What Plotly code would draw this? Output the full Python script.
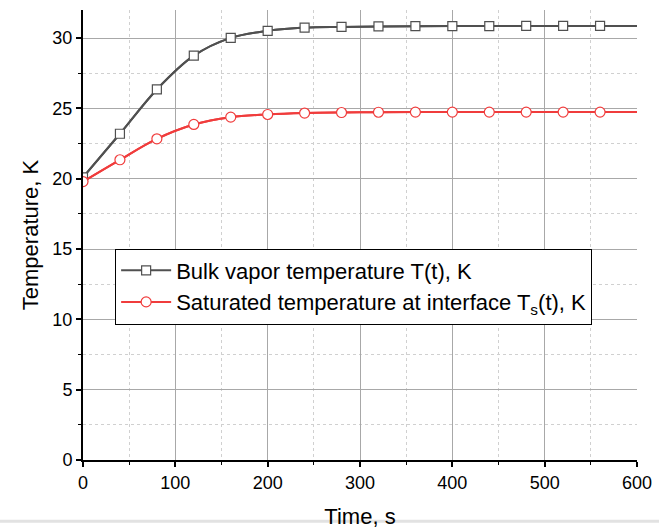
import plotly.graph_objects as go

time_s = [0, 40, 80, 120, 160, 200, 240, 280, 320, 360, 400, 440, 480, 520, 560, 600]
bulk_T = [20.1, 23.2, 26.35, 28.75, 30.02, 30.52, 30.75, 30.8, 30.83, 30.85, 30.86, 30.86, 30.87, 30.87, 30.87, 30.87]
sat_T = [19.8, 21.35, 22.84, 23.86, 24.38, 24.57, 24.67, 24.71, 24.73, 24.74, 24.74, 24.74, 24.74, 24.74, 24.74, 24.74]

bulk_name = "Bulk vapor temperature T(t), K"
sat_name = "Saturated temperature at interface T<sub>s</sub>(t), K"

gray = "#505050"
red = "#f03c3c"

fig = go.Figure()
# full lines to 600 (no markers)
fig.add_trace(go.Scatter(x=time_s, y=bulk_T, mode="lines", line=dict(color=gray, width=2, shape="spline"),
                         showlegend=False, hoverinfo="skip"))
fig.add_trace(go.Scatter(x=time_s, y=sat_T, mode="lines", line=dict(color=red, width=2, shape="spline"),
                         showlegend=False, hoverinfo="skip"))
# markers up to 560
fig.add_trace(go.Scatter(x=time_s[:-1], y=bulk_T[:-1], mode="lines+markers", name=bulk_name,
                         line=dict(color=gray, width=2, shape="spline"),
                         marker=dict(symbol="square", size=9, color="white", line=dict(color=gray, width=1.2))))
fig.add_trace(go.Scatter(x=time_s[:-1], y=sat_T[:-1], mode="lines+markers", name=sat_name,
                         line=dict(color=red, width=2, shape="spline"),
                         marker=dict(symbol="circle", size=10, color="white", line=dict(color=red, width=1.2))))

font_family = "Liberation Sans, Arial, sans-serif"

fig.update_layout(
    width=659, height=529,
    margin=dict(l=83, r=22, t=10, b=69),
    paper_bgcolor="white", plot_bgcolor="white",
    font=dict(family=font_family, color="black"),
    showlegend=True,
    legend=dict(x=0.058, y=0.47, xanchor="left", yanchor="top", bgcolor="white",
                bordercolor="black", borderwidth=1, font=dict(size=22, family=font_family),
                tracegroupgap=0, itemwidth=50),
    shapes=[dict(type="line", xref="paper", yref="paper", x0=-0.15, x1=1.04, y0=-0.136, y1=-0.136,
                 line=dict(color="#e2e2e2", width=3), layer="below")],
)

fig.update_xaxes(
    range=[0, 600], tickvals=[0, 100, 200, 300, 400, 500, 600],
    showline=True, linecolor="black", linewidth=2,
    ticks="outside", ticklen=5, tickwidth=1.5, tickcolor="black",
    tickfont=dict(size=18), automargin=False,
    showgrid=True, gridcolor="#a8a8a8", gridwidth=1,
    minor=dict(dtick=50, tick0=0, ticks="outside", ticklen=3, tickwidth=1.2, tickcolor="black",
               showgrid=True, gridcolor="#d0d0d0", griddash="dot", gridwidth=1),
    zeroline=False,
    title=dict(text="Time, s", font=dict(size=22), standoff=22),
)
fig.update_yaxes(
    range=[0, 32], tickvals=[0, 5, 10, 15, 20, 25, 30],
    showline=True, linecolor="black", linewidth=2,
    ticks="outside", ticklen=5, tickwidth=1.5, tickcolor="black",
    tickfont=dict(size=18), automargin=False,
    showgrid=True, gridcolor="#a8a8a8", gridwidth=1,
    minor=dict(dtick=2.5, tick0=0, ticks="outside", ticklen=3, tickwidth=1.2, tickcolor="black",
               showgrid=True, gridcolor="#d0d0d0", griddash="dot", gridwidth=1),
    zeroline=False,
    title=dict(text="Temperature, K", font=dict(size=22), standoff=8),
)

fig.write_html("out.html")
